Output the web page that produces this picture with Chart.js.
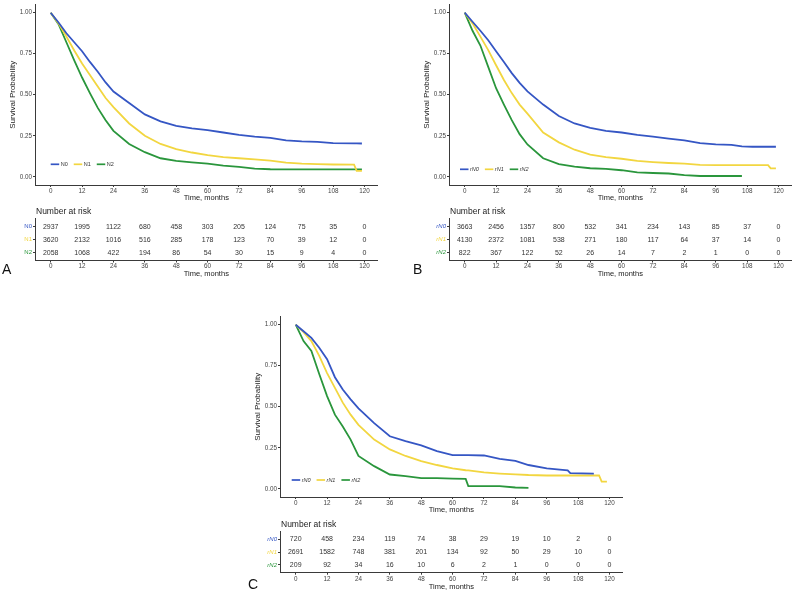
<!DOCTYPE html>
<html>
<head>
<meta charset="utf-8">
<script src="https://cdn.jsdelivr.net/npm/chart.js@4.4.0/dist/chart.umd.min.js"></script>
<style>
  body { margin: 0; width: 800px; height: 595px; overflow: hidden; background: #fff; font-family: "Liberation Sans", Arial, sans-serif; }
  canvas { position: absolute; }
  .tag { position: absolute; font-size: 14px; line-height: 14px; color: #111; }
</style>
</head>
<body>
<canvas id="kmA" width="385" height="205" style="left:0;top:0"></canvas>
<canvas id="riskA" width="385" height="80" style="left:0;top:200px"></canvas>
<canvas id="kmB" width="385" height="205" style="left:414px;top:0"></canvas>
<canvas id="riskB" width="385" height="80" style="left:414px;top:200px"></canvas>
<canvas id="kmC" width="385" height="205" style="left:245px;top:312px"></canvas>
<canvas id="riskC" width="385" height="80" style="left:245px;top:513px"></canvas>
<div class="tag" style="left:2px;top:262px">A</div>
<div class="tag" style="left:413px;top:262px">B</div>
<div class="tag" style="left:248px;top:577px">C</div>
<script>
// panel A: pathologic N
const timesA = [0, 3, 6, 9, 12, 15, 18, 21, 24, 30, 36, 42, 48, 54, 60, 66, 72, 78, 84, 90, 96, 102, 108, 116, 117, 119];
const survA_N0 = [1.0, 0.94, 0.875, 0.82, 0.765, 0.7, 0.64, 0.575, 0.52, 0.45, 0.38, 0.338, 0.31, 0.295, 0.285, 0.27, 0.256, 0.245, 0.237, 0.222, 0.216, 0.213, 0.205, 0.204, 0.204, 0.203];
const survA_N1 = [1.0, 0.935, 0.855, 0.77, 0.69, 0.62, 0.55, 0.48, 0.425, 0.325, 0.25, 0.2, 0.168, 0.148, 0.132, 0.12, 0.113, 0.106, 0.099, 0.086, 0.08, 0.077, 0.075, 0.074, 0.036, 0.036];
const survA_N2 = [1.0, 0.93, 0.82, 0.71, 0.605, 0.51, 0.42, 0.345, 0.28, 0.2, 0.15, 0.113, 0.097, 0.088, 0.08, 0.068, 0.06, 0.05, 0.046, 0.045, 0.045, 0.045, 0.045, 0.045, 0.045, 0.045];

// panel B
const timesB = [0, 3, 6, 9, 12, 15, 18, 21, 24, 30, 36, 42, 48, 54, 60, 66, 72, 78, 84, 90, 96, 102, 106, 110, 116, 117, 119];
const survB_N0 = [1.0, 0.945, 0.89, 0.832, 0.765, 0.7, 0.632, 0.572, 0.52, 0.44, 0.37, 0.325, 0.298, 0.28, 0.27, 0.255, 0.245, 0.233, 0.222, 0.205, 0.198, 0.195, 0.185, 0.183, 0.183, 0.183, 0.183];
const survB_N1 = [1.0, 0.935, 0.854, 0.772, 0.68, 0.59, 0.51, 0.44, 0.385, 0.27, 0.21, 0.165, 0.135, 0.12, 0.11, 0.097, 0.09, 0.084, 0.08, 0.073, 0.071, 0.071, 0.071, 0.071, 0.071, 0.051, 0.051];
const survB_N2 = [1.0, 0.89, 0.8, 0.67, 0.54, 0.44, 0.345, 0.26, 0.197, 0.113, 0.077, 0.062, 0.052, 0.048, 0.04, 0.027, 0.023, 0.02, 0.01, 0.005, 0.005, 0.005, 0.005, null, null, null, null];

// panel C
const timesC = [0, 3, 6, 9, 12, 15, 18, 21, 24, 30, 36, 42, 48, 54, 60, 65, 66, 72, 78, 84, 89, 96, 102, 104, 105, 114, 116, 117, 119];
const survC_N0 = [1.0, 0.96, 0.92, 0.86, 0.79, 0.68, 0.605, 0.545, 0.49, 0.4, 0.32, 0.29, 0.265, 0.23, 0.205, 0.205, 0.205, 0.203, 0.182, 0.17, 0.145, 0.125, 0.115, 0.112, 0.095, 0.093, null, null, null];
const survC_N1 = [1.0, 0.955, 0.9, 0.81, 0.705, 0.615, 0.525, 0.452, 0.39, 0.3, 0.24, 0.2, 0.168, 0.145, 0.125, 0.113, 0.112, 0.1, 0.093, 0.088, 0.084, 0.081, 0.081, 0.081, 0.081, 0.081, 0.081, 0.044, 0.044];
const survC_N2 = [1.0, 0.9, 0.84, 0.7, 0.565, 0.452, 0.38, 0.3, 0.2, 0.138, 0.087, 0.077, 0.065, 0.065, 0.062, 0.06, 0.016, 0.016, 0.016, 0.008, 0.006, null, null, null, null, null, null, null, null];

// number at risk
const monthTicks = [0, 12, 24, 36, 48, 60, 72, 84, 96, 108, 120];
const riskA_N0 = [2937, 1995, 1122, 680, 458, 303, 205, 124, 75, 35, 0];
const riskA_N1 = [3620, 2132, 1016, 516, 285, 178, 123, 70, 39, 12, 0];
const riskA_N2 = [2058, 1068, 422, 194, 86, 54, 30, 15, 9, 4, 0];
const riskB_N0 = [3663, 2456, 1357, 800, 532, 341, 234, 143, 85, 37, 0];
const riskB_N1 = [4130, 2372, 1081, 538, 271, 180, 117, 64, 37, 14, 0];
const riskB_N2 = [822, 367, 122, 52, 26, 14, 7, 2, 1, 0, 0];
const riskC_N0 = [720, 458, 234, 119, 74, 38, 29, 19, 10, 2, 0];
const riskC_N1 = [2691, 1582, 748, 381, 201, 134, 92, 50, 29, 10, 0];
const riskC_N2 = [209, 92, 34, 16, 10, 6, 2, 1, 0, 0, 0];

const probTicks = [0, 0.25, 0.5, 0.75, 1];
const namesN = ["N0", "N1", "N2"];
const namesRN = ["rN0", "rN1", "rN2"];

const groupColors = ["#3556c4", "#f2d640", "#2a963c"];
const axisColor = "#3a3a3a";
const fontFamily = "'Liberation Sans', Arial, sans-serif";

Chart.defaults.font.family = fontFamily;

function timeAxis(height, titlePad) {
  return {
    type: "linear",
    min: -6,
    max: 125,
    afterBuildTicks: (s) => {
      s.ticks = monthTicks.map((v) => ({ value: v }));
    },
    afterFit: (s) => {
      s.height = height;
    },
    grid: { drawOnChartArea: false, tickLength: 2, color: axisColor },
    border: { color: axisColor, width: 1 },
    ticks: {
      font: { size: 6.3, lineHeight: 1 },
      color: "#444",
      padding: 1,
      maxRotation: 0,
      autoSkip: false,
    },
    title: {
      display: true,
      text: "Time, months",
      font: { size: 7.5, lineHeight: 1 },
      color: "#222",
      padding: { top: 0, bottom: titlePad },
    },
  };
}

function insideLegend(names, dx, dy, italic) {
  return {
    id: "insideLegend",
    afterDraw(chart) {
      const { ctx, chartArea } = chart;
      let x = chartArea.left + dx;
      const y = chartArea.bottom - dy;
      ctx.save();
      ctx.font = (italic ? "italic " : "") + "5.5px " + fontFamily;
      ctx.textBaseline = "middle";
      names.forEach((name, i) => {
        ctx.strokeStyle = groupColors[i];
        ctx.lineWidth = 1.7;
        ctx.beginPath();
        ctx.moveTo(x, y);
        ctx.lineTo(x + 8.5, y);
        ctx.stroke();
        ctx.fillStyle = "#333";
        ctx.fillText(name, x + 10, y);
        x += 10 + ctx.measureText(name).width + 6;
      });
      ctx.restore();
    },
  };
}

function survivalChart(id, times, series, names, legendDx, legendDy, italic) {
  const datasets = series.map((s, i) => ({
    label: names[i],
    data: times.map((t, j) => ({ x: t, y: s[j] })),
    borderColor: groupColors[i],
    borderWidth: 1.8,
    pointRadius: 0,
    tension: 0,
    fill: false,
    spanGaps: false,
  }));

  new Chart(document.getElementById(id), {
    type: "line",
    data: { datasets },
    options: {
      responsive: false,
      animation: false,
      devicePixelRatio: 1,
      layout: { padding: { top: 4.5, right: 7.4, left: 0, bottom: 0 } },
      plugins: { legend: { display: false }, tooltip: { enabled: false } },
      scales: {
        x: timeAxis(20, 3),
        y: {
          type: "linear",
          min: -0.05,
          max: 1.05,
          afterBuildTicks: (s) => {
            s.ticks = probTicks.map((v) => ({ value: v }));
          },
          afterFit: (s) => {
            s.width = 35;
          },
          grid: { drawOnChartArea: false, tickLength: 2, color: axisColor },
          border: { color: axisColor, width: 1 },
          ticks: {
            font: { size: 6.3, lineHeight: 1 },
            color: "#444",
            padding: 1,
            callback: (v) => v.toFixed(2),
          },
          title: {
            display: true,
            text: "Survival Probability",
            font: { size: 8, lineHeight: 1 },
            color: "#222",
            padding: { top: 9, bottom: 0 },
          },
        },
      },
    },
    plugins: [insideLegend(names, legendDx, legendDy, italic)],
  });
}

function riskNumbers(rows) {
  return {
    id: "riskNumbers",
    afterDraw(chart) {
      const { ctx, chartArea } = chart;
      const { x, y } = chart.scales;
      ctx.save();
      ctx.font = "7px " + fontFamily;
      ctx.fillStyle = "#333";
      ctx.textAlign = "center";
      ctx.textBaseline = "middle";
      rows.forEach((row, i) => {
        row.forEach((n, j) => {
          ctx.fillText(String(n), x.getPixelForValue(monthTicks[j]), y.getPixelForValue(i + 1));
        });
      });
      ctx.font = "8.5px " + fontFamily;
      ctx.fillStyle = "#222";
      ctx.textAlign = "left";
      ctx.fillText("Number at risk", chartArea.left + 1, chartArea.top - 6.8);
      ctx.restore();
    },
  };
}

function riskTable(id, rows, names, padTop, axisHeight, titlePad, italic) {
  new Chart(document.getElementById(id), {
    type: "line",
    data: { datasets: [] },
    options: {
      responsive: false,
      animation: false,
      devicePixelRatio: 1,
      layout: { padding: { top: padTop, right: 7.4, left: 0, bottom: 0 } },
      plugins: { legend: { display: false }, tooltip: { enabled: false } },
      scales: {
        x: timeAxis(axisHeight, titlePad),
        y: {
          type: "linear",
          min: 0.4,
          max: 3.6,
          reverse: true,
          afterBuildTicks: (s) => {
            s.ticks = names.map((n, i) => ({ value: i + 1 }));
          },
          afterFit: (s) => {
            s.width = 35;
          },
          grid: { drawOnChartArea: false, tickLength: 2, color: axisColor },
          border: { color: axisColor, width: 1 },
          ticks: {
            font: { size: 6, lineHeight: 1, style: italic ? "italic" : "normal" },
            color: (c) => groupColors[c.index],
            padding: 1,
            callback: (v) => names[v - 1],
          },
        },
      },
    },
    plugins: [riskNumbers(rows)],
  });
}

survivalChart("kmA", timesA, [survA_N0, survA_N1, survA_N2], namesN, 15.7, 20.7, false);
survivalChart("kmB", timesB, [survB_N0, survB_N1, survB_N2], namesRN, 11, 15.7, true);
survivalChart("kmC", timesC, [survC_N0, survC_N1, survC_N2], namesRN, 11.7, 17, true);

riskTable("riskA", [riskA_N0, riskA_N1, riskA_N2], namesN, 18.9, 19.5, 2.7, false);
riskTable("riskB", [riskB_N0, riskB_N1, riskB_N2], namesRN, 18.9, 19.5, 2.7, true);
riskTable("riskC", [riskC_N0, riskC_N1, riskC_N2], namesRN, 18.6, 20.3, 2.3, true);
</script>
</body>
</html>
